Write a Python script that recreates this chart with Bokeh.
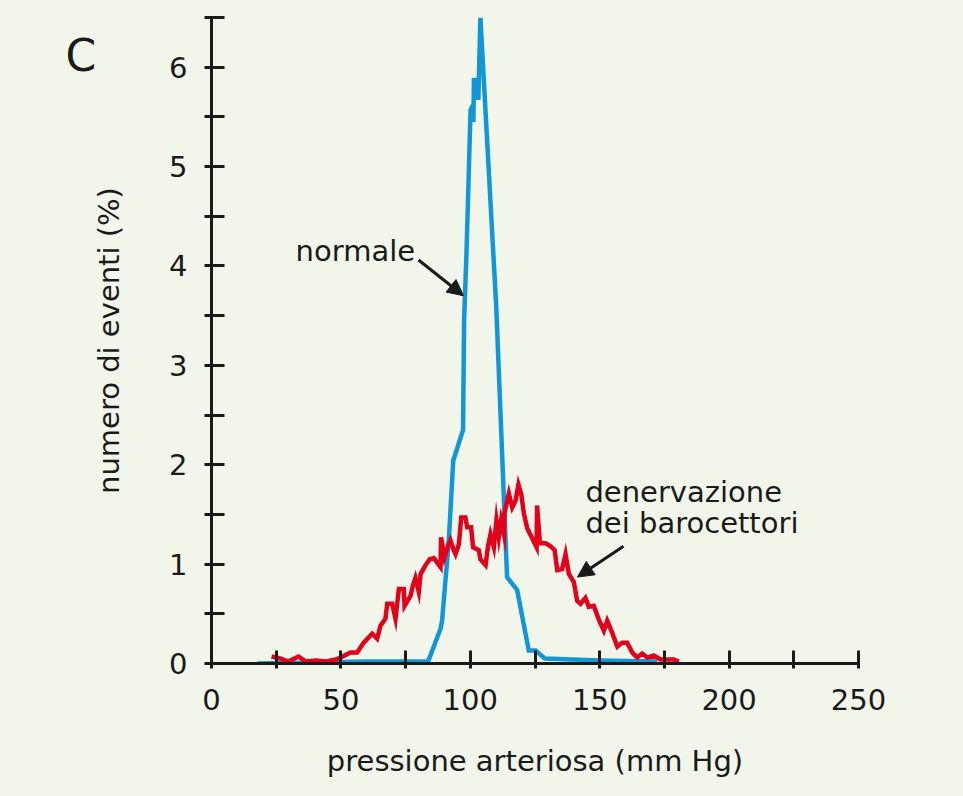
from bokeh.plotting import figure
from bokeh.models import Range1d, FixedTicker, Label, Arrow, NormalHead
from bokeh.embed import file_html
from bokeh.resources import INLINE

# ---- data ----
normale_x = [17.8, 40.0, 60.0, 83.7, 88.5, 89.1, 91.7, 93.4, 97.2, 97.6, 98.5, 100.1,
             100.7, 101.2, 101.4, 102.7, 103.1, 103.3, 103.9, 110.0, 114.2, 118.1,
             122.6, 125.2, 128.8, 150.0, 172.2]
normale_y = [0.0, 0.01, 0.02, 0.02, 0.35, 0.43, 1.24, 2.04, 2.35, 3.45, 4.11, 5.57,
             5.60, 5.45, 5.87, 5.87, 5.67, 5.87, 6.5, 3.6, 0.87, 0.74,
             0.13, 0.13, 0.05, 0.03, 0.02]

denerv_x = [23.2, 26.5, 29.7, 33.6, 36.5, 40.3, 44.2, 48.1, 50.7, 53.7, 56.3, 58.8,
            62.1, 64.0, 65.3, 67.2, 67.9, 69.8, 71.1, 72.4, 74.3, 74.6, 76.9, 77.8,
            78.8, 80.1, 80.8, 82.5, 84.3, 85.9, 88.5, 88.7, 90.0, 91.2, 92.3, 93.6,
            94.3, 95.6, 96.5, 98.1, 98.8, 100.3, 101.1, 103.3, 103.9, 105.9, 106.8,
            107.8, 109.1, 110.1, 111.0, 111.9, 113.0, 113.2, 114.9, 116.2, 117.5,
            118.6, 119.7, 120.7, 122.0, 124.3, 125.6, 125.8, 126.9, 129.1, 131.0,
            132.6, 133.6, 135.5, 136.8, 138.1, 140.0, 141.3, 142.6, 144.5, 145.8,
            147.7, 149.7, 151.6, 152.9, 154.8, 156.8, 158.7, 160.6, 162.6, 164.5,
            166.4, 168.4, 170.9, 173.5, 176.1, 178.6, 180.6]
denerv_y = [0.07, 0.05, 0.02, 0.07, 0.02, 0.03, 0.02, 0.04, 0.07, 0.11, 0.11, 0.21,
            0.30, 0.25, 0.38, 0.45, 0.60, 0.60, 0.45, 0.75, 0.75, 0.58, 0.68, 0.78,
            0.86, 0.72, 0.90, 0.98, 1.05, 1.06, 0.97, 1.27, 1.07, 1.17, 1.24, 1.14,
            1.10, 1.20, 1.47, 1.47, 1.37, 1.37, 1.17, 1.14, 1.05, 0.99, 1.17,
            1.30, 1.17, 1.44, 1.27, 1.44, 1.30, 1.51, 1.71, 1.57, 1.64,
            1.80, 1.70, 1.51, 1.36, 1.24, 1.17, 1.59, 1.21, 1.21, 1.18,
            1.14, 0.94, 0.95, 1.10, 0.90, 0.82, 0.63, 0.60, 0.66, 0.57,
            0.58, 0.44, 0.33, 0.43, 0.31, 0.17, 0.21, 0.21, 0.11, 0.06,
            0.10, 0.06, 0.08, 0.04, 0.04, 0.04, 0.02]

x_ticks = [0, 25, 50, 75, 100, 125, 150, 175, 200, 225, 250]
x_labels = {0: "0", 25: "", 50: "50", 75: "", 100: "100", 125: "", 150: "150",
            175: "", 200: "200", 225: "", 250: "250"}
y_ticks = [0, 1, 2, 3, 4, 5, 6]
y_minor = [0.5, 1.5, 2.5, 3.5, 4.5, 5.5, 6.5]

BG = "#f2f6ea"
BLUE = "#1197d5"
RED = "#e2001a"
INK = "#1a1a1a"
FONT = "DejaVu Sans"

p = figure(width=963, height=796, output_backend="svg", toolbar_location=None,
           x_range=Range1d(0, 250), y_range=Range1d(0, 6.5))
p.min_border_left = 211
p.min_border_right = 105
p.min_border_top = 17
p.min_border_bottom = 133
p.background_fill_color = BG
p.border_fill_color = BG
p.outline_line_color = None
p.xgrid.visible = False
p.ygrid.visible = False

p.line(normale_x, normale_y, line_color=BLUE, line_width=4.5, line_join="miter")
p.line(denerv_x, denerv_y, line_color=RED, line_width=4.5, line_join="miter")

# axes
xa = p.xaxis[0]
xa.ticker = FixedTicker(ticks=x_ticks, minor_ticks=[])
xa.major_label_overrides = x_labels
xa.axis_line_width = 3
xa.axis_line_color = INK
xa.major_tick_line_width = 3
xa.major_tick_line_color = INK
xa.major_tick_in = 13
xa.major_tick_out = 5
xa.minor_tick_line_color = None
xa.major_label_standoff = 20
xa.major_label_text_font = FONT
xa.major_label_text_font_size = "29px"
xa.major_label_text_color = INK
xa.axis_label = "pressione arteriosa (mm Hg)"
xa.axis_label_text_font = FONT
xa.axis_label_text_font_size = "29px"
xa.axis_label_text_font_style = "normal"
xa.axis_label_text_color = INK
xa.axis_label_standoff = 31

ya = p.yaxis[0]
ya.ticker = FixedTicker(ticks=y_ticks, minor_ticks=y_minor)
ya.axis_line_width = 3
ya.axis_line_color = INK
ya.major_tick_line_width = 3
ya.major_tick_line_color = INK
ya.major_tick_in = 13
ya.major_tick_out = 7
ya.minor_tick_line_width = 3
ya.minor_tick_line_color = INK
ya.minor_tick_in = 13
ya.minor_tick_out = 7
ya.major_label_standoff = 17
ya.major_label_text_font = FONT
ya.major_label_text_font_size = "29px"
ya.major_label_text_color = INK
ya.axis_label = "numero di eventi (%)"
ya.axis_label_text_font = FONT
ya.axis_label_text_font_size = "29px"
ya.axis_label_text_font_style = "normal"
ya.axis_label_text_color = INK
ya.axis_label_standoff = 40

# annotations
p.add_layout(Label(x=-56.4, y=6.12, text="C", text_font=FONT, text_font_size="44px",
                   text_color=INK, text_baseline="alphabetic"), "left")
p.add_layout(Label(x=32.5, y=4.15, text="normale", text_font=FONT, text_font_size="29px",
                   text_color=INK, text_baseline="alphabetic"))
p.add_layout(Label(x=144.5, y=1.73, text="denervazione", text_font=FONT,
                   text_font_size="29px", text_color=INK, text_baseline="alphabetic"))
p.add_layout(Label(x=144.5, y=1.41, text="dei barocettori", text_font=FONT,
                   text_font_size="29px", text_color=INK, text_baseline="alphabetic"))

p.add_layout(Arrow(x_start=80.0, y_start=4.06, x_end=97.4, y_end=3.70,
                   line_width=3, line_color=INK,
                   end=NormalHead(size=16, fill_color=INK, line_color=INK)))
p.add_layout(Arrow(x_start=159.2, y_start=1.18, x_end=141.4, y_end=0.87,
                   line_width=3, line_color=INK,
                   end=NormalHead(size=16, fill_color=INK, line_color=INK)))

html = file_html(p, INLINE)
html = html.replace("</head>", "<style>body{background:%s;}</style></head>" % BG, 1)
open("out.html", "w").write(html)
